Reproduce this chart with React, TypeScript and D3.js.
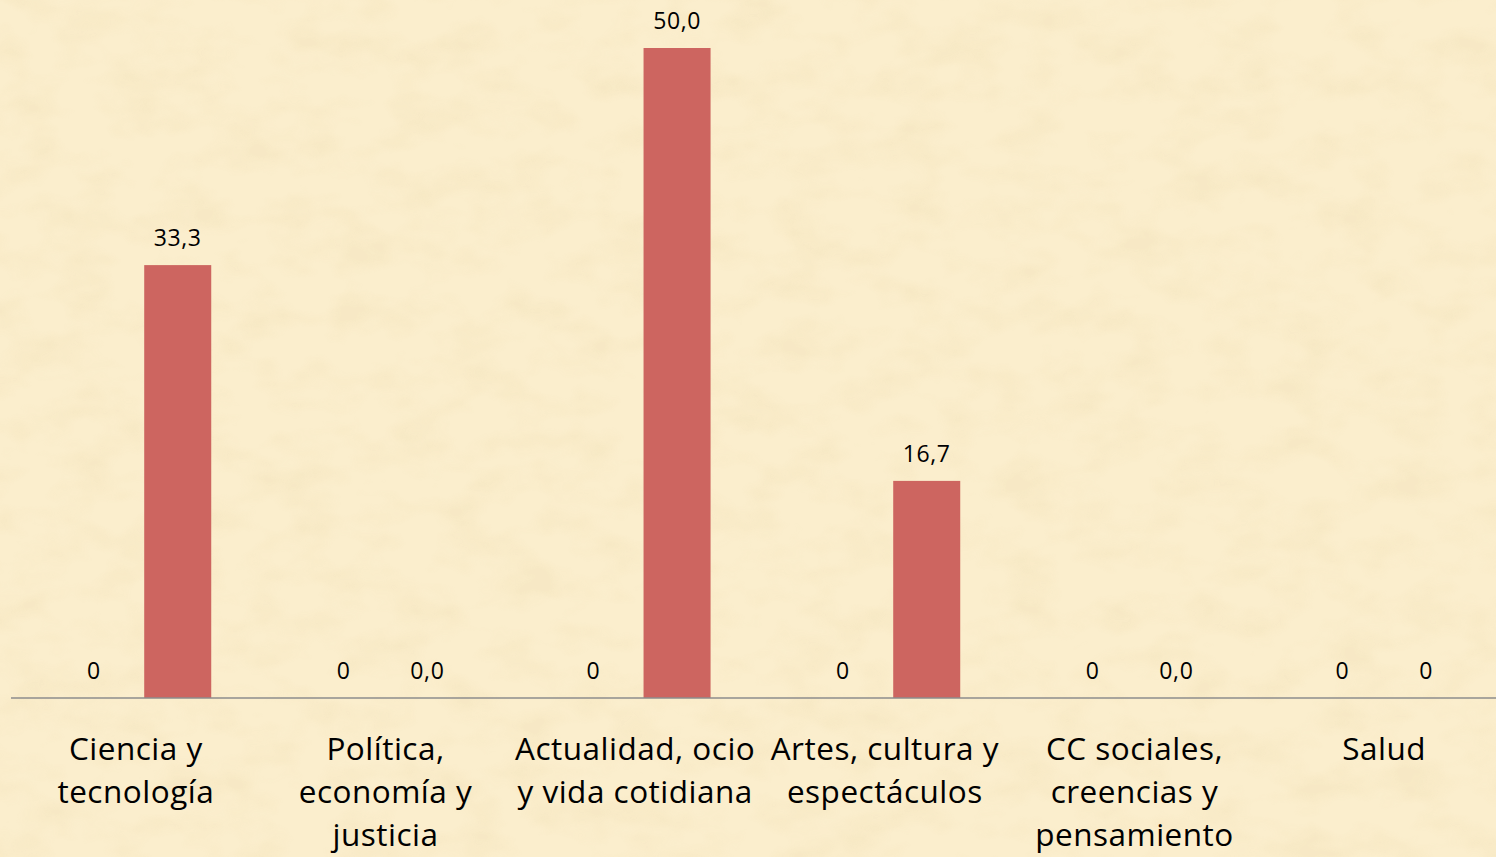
import React from "react";
import * as d3 from "d3";

const categories: string[][] = [
  ["Ciencia y", "tecnología"],
  ["Política,", "economía y", "justicia"],
  ["Actualidad, ocio", "y vida cotidiana"],
  ["Artes, cultura y", "espectáculos"],
  ["CC sociales,", "creencias y", "pensamiento"],
  ["Salud"],
];
const seriesNames = ["Serie 1", "Serie 2"];
const series1Values = [0, 0, 0, 0, 0, 0];
const series1Labels = ["0", "0", "0", "0", "0", "0"];
const series2Values = [33.3, 0, 50.0, 16.7, 0, 0];
const series2Labels = ["33,3", "0,0", "50,0", "16,7", "0,0", "0"];

const W = 1496;
const H = 857;
const FONT = "'Open Sans', Lato, sans-serif";

export default function App() {
  const x = d3
    .scaleBand<number>()
    .domain(categories.map((_, i) => i))
    .range([11, 1509])
    .padding(0);
  const bw = x.bandwidth();
  const inner = d3
    .scaleBand<string>()
    .domain(seriesNames)
    .range([bw * 0.198, bw * 0.802])
    .paddingInner(0.2)
    .paddingOuter(0);
  const y = d3.scaleLinear().domain([0, 50]).range([698, 48]);

  const series = [
    { name: seriesNames[0], values: series1Values, labels: series1Labels, color: "none" },
    { name: seriesNames[1], values: series2Values, labels: series2Labels, color: "#cd6560" },
  ];

  return (
    <svg
      width={W}
      height={H}
      style={{ position: "absolute", left: 0, top: 0, display: "block" }}
    >
      <defs>
        <filter id="parch" x="0" y="0" width="100%" height="100%">
          <feTurbulence type="fractalNoise" baseFrequency="0.018 0.03" numOctaves={3} seed={7} result="n" />
          <feColorMatrix
            in="n"
            type="matrix"
            values="0 0 0 0 0.93  0 0 0 0 0.81  0 0 0 0 0.55  0 0 0 2.6 -1.1"
          />
        </filter>
      </defs>
      <rect x={0} y={0} width={W} height={H} fill="#fbeecd" />
      <rect x={0} y={0} width={W} height={H} filter="url(#parch)" opacity={0.85} />

      {series.map((s) =>
        s.values.map((v, i) => {
          const bx = (x(i) as number) + (inner(s.name) as number);
          const top = y(v);
          return (
            <g key={s.name + i}>
              {s.color !== "none" && v > 0 && (
                <rect x={bx} y={top} width={inner.bandwidth()} height={y(0) - top} fill={s.color} />
              )}
              <text
                x={bx + inner.bandwidth() / 2}
                y={top - 19}
                textAnchor="middle"
                fontFamily={FONT}
                fontSize={23}
                letterSpacing={0.6}
                fill="#000"
              >
                {s.labels[i]}
              </text>
            </g>
          );
        })
      )}

      <line x1={11} x2={W} y1={y(0)} y2={y(0)} stroke="#8c8c8c" strokeWidth={1.5} />

      {categories.map((lines, i) => (
        <text
          key={"c" + i}
          x={(x(i) as number) + bw / 2}
          y={760}
          textAnchor="middle"
          fontFamily={FONT}
          fontSize={31.5}
          letterSpacing={0.5}
          fill="#000"
        >
          {lines.map((l, j) => (
            <tspan key={j} x={(x(i) as number) + bw / 2} dy={j === 0 ? 0 : 43}>
              {l}
            </tspan>
          ))}
        </text>
      ))}
    </svg>
  );
}
